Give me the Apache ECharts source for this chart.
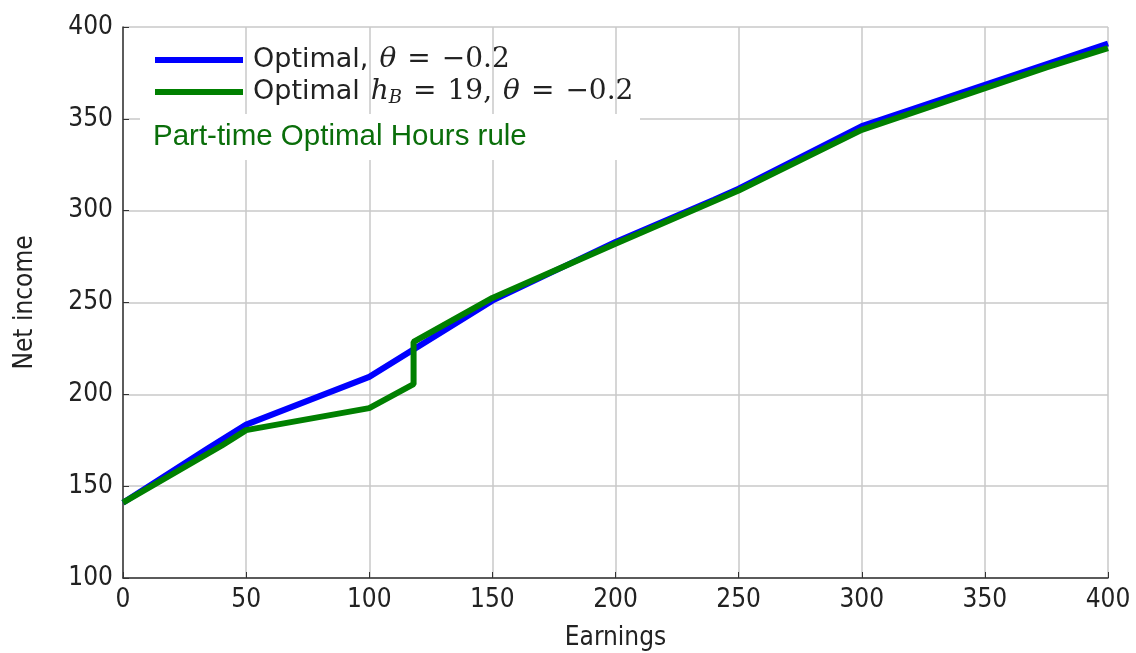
<!DOCTYPE html>
<html>
<head>
<meta charset="utf-8">
<script src="https://cdn.jsdelivr.net/npm/echarts@6/dist/echarts.min.js"></script>
<style>
  html, body { margin: 0; padding: 0; background: #fff; }
  #main { width: 1136px; height: 653px; }
</style>
</head>
<body>
<div id="main"></div>
<script>
// earnings / net income
var blueX = [0, 35, 50, 100, 150, 200, 240, 250, 300, 360, 400];
var blueY = [141, 171, 183.5, 209.5, 251, 283, 306, 312, 346, 373, 391];
var greenX = [0, 40, 50, 100, 118, 118, 150, 200, 250, 300, 375, 400];
var greenY = [141, 172, 180.5, 192.5, 205.5, 228.5, 252.5, 282, 311, 344, 378, 388.5];
var seriesNames = ['Optimal, θ = −0.2', 'Optimal h_B = 19, θ = −0.2'];
var note = 'Part-time Optimal Hours rule';

function pairs(xs, ys) {
	var out = [];
	for (var i = 0; i < xs.length; i++) out.push([xs[i], ys[i]]);
	return out;
}

var myChart = echarts.init(document.getElementById('main'));

var axisText = { color: '#222', fontSize: 26, fontFamily: '"DejaVu Sans Condensed", "DejaVu Sans"' };

myChart.setOption({
	backgroundColor: '#fff',
	animation: false,
	grid: { left: 123, right: 28, top: 27, bottom: 75, outerBoundsMode: 'none', containLabel: false },
	xAxis: {
		type: 'value',
		min: 0, max: 400, interval: 50,
		name: 'Earnings',
		nameLocation: 'middle',
		nameGap: 47,
		nameTextStyle: axisText,
		axisLine: { lineStyle: { color: '#333', width: 1.5 } },
		axisTick: { inside: true, length: 6, lineStyle: { color: '#333' } },
		axisLabel: Object.assign({ margin: 9 }, axisText),
		splitLine: { lineStyle: { color: '#c8c8c8', width: 1.5 } }
	},
	yAxis: {
		type: 'value',
		min: 100, max: 400, interval: 50,
		name: 'Net income',
		nameLocation: 'middle',
		nameGap: 85,
		nameTextStyle: axisText,
		axisLine: { show: true, lineStyle: { color: '#333', width: 1.5 } },
		axisTick: { show: true, inside: true, length: 6, lineStyle: { color: '#333' } },
		axisLabel: Object.assign({ margin: 10 }, axisText),
		splitLine: { lineStyle: { color: '#c8c8c8', width: 1.5 } }
	},
	legend: {
		orient: 'vertical',
		left: 155, top: 46,
		padding: 0,
		itemWidth: 88, itemHeight: 6,
		itemGap: 4,
		icon: 'rect',
		data: seriesNames,
		formatter: function (name) {
			if (name === seriesNames[0]) {
				return '{n|Optimal,}{g|}{i|θ}{g|}{m|=}{g|}{m|−0.2}';
			}
			return '{n|Optimal}{g|}{i|h}{s|B}{g|}{m|=}{g|}{m|19,}{g|}{i|θ}{g|}{m|=}{g|}{m|−0.2}';
		},
		textStyle: {
			padding: [0, 0, 0, 5],
			rich: {
				n: { fontFamily: 'DejaVu Sans', fontSize: 27, color: '#222' },
				m: { fontFamily: 'DejaVu Serif', fontSize: 28, color: '#222' },
				i: { fontFamily: 'DejaVu Serif', fontStyle: 'italic', fontSize: 28, color: '#222' },
				s: { fontFamily: 'DejaVu Serif', fontStyle: 'italic', fontSize: 18, color: '#222', padding: [13, 0, 0, 0] },
				g: { width: 11 }
			}
		}
	},
	graphic: [{
		type: 'rect',
		left: 140, top: 114,
		shape: { width: 500, height: 46 },
		style: { fill: '#fff' },
		z: 50
	}, {
		type: 'text',
		left: 153, top: 122,
		style: {
			text: note,
			fill: '#0a6e0a',
			font: '29.5px "Liberation Sans", Arial, sans-serif'
		},
		z: 51
	}],
	series: [{
		name: seriesNames[0],
		type: 'line',
		data: pairs(blueX, blueY),
		showSymbol: false,
		itemStyle: { color: '#0000ff' },
		lineStyle: { color: '#0000ff', width: 6 }
	}, {
		name: seriesNames[1],
		type: 'line',
		data: pairs(greenX, greenY),
		showSymbol: false,
		itemStyle: { color: '#008000' },
		lineStyle: { color: '#008000', width: 6 }
	}]
});
</script>
</body>
</html>
